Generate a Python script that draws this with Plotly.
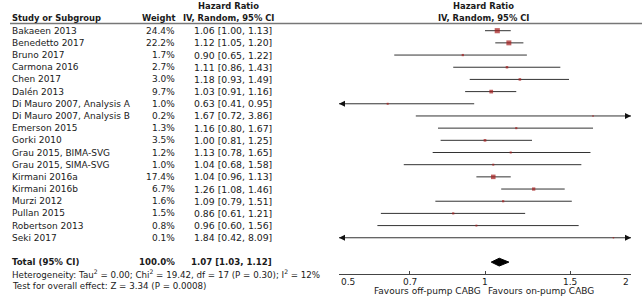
import math
import plotly.graph_objects as go

studies = ["Bakaeen 2013", "Benedetto 2017", "Bruno 2017", "Carmona 2016", "Chen 2017",
           "Dalén 2013", "Di Mauro 2007, Analysis A", "Di Mauro 2007, Analysis B",
           "Emerson 2015", "Gorki 2010", "Grau 2015, BIMA-SVG", "Grau 2015, SIMA-SVG",
           "Kirmani 2016a", "Kirmani 2016b", "Murzi 2012", "Pullan 2015",
           "Robertson 2013", "Seki 2017"]
weights = [24.4, 22.2, 1.7, 2.7, 3.0, 9.7, 1.0, 0.2, 1.3, 3.5, 1.2, 1.0, 17.4, 6.7, 1.6, 1.5, 0.8, 0.1]
hr = [1.06, 1.12, 0.90, 1.11, 1.18, 1.03, 0.63, 1.67, 1.16, 1.00, 1.13, 1.04, 1.04, 1.26, 1.09, 0.86, 0.96, 1.84]
lo = [1.00, 1.05, 0.65, 0.86, 0.93, 0.91, 0.41, 0.72, 0.80, 0.81, 0.78, 0.68, 0.96, 1.08, 0.79, 0.61, 0.60, 0.42]
hi = [1.13, 1.20, 1.22, 1.43, 1.49, 1.16, 0.95, 3.86, 1.67, 1.25, 1.65, 1.58, 1.13, 1.46, 1.51, 1.21, 1.56, 8.09]
total = {"label": "Total (95% CI)", "weight": "100.0%", "hr": 1.07, "lo": 1.03, "hi": 1.12}
heterogeneity = "Heterogeneity: Tau<sup>2</sup> = 0.00; Chi<sup>2</sup> = 19.42, df = 17 (P = 0.30); I<sup>2</sup> = 12%"
overall = "Test for overall effect: Z = 3.34 (P = 0.0008)"
tick_vals = [0.5, 0.7, 1, 1.5, 2]
tick_text = ["0.5", "0.7", "1", "1.5", "2"]
x_min, x_max = 0.5, 2
left_label = "Favours off-pump CABG"
right_label = "Favours on-pump CABG"

W, H = 642, 300
FONT = "DejaVu Sans"
FS = 9
FSB = 8.4
SQ = "#a51d1d"

def px(x):
    return x / W

def py(y):
    return 1 - y / H

rows = list(range(len(studies)))
total_row = len(studies) + 1

fig = go.Figure()

# CI lines
cx, cy = [], []
for r, a, b in zip(rows, lo, hi):
    cx += [a, b, None]
    cy += [r, r, None]
fig.add_trace(go.Scatter(x=cx, y=cy, mode="lines", line=dict(color="#333333", width=1),
                         hoverinfo="skip", showlegend=False))

# arrows for clipped CIs
ax, ay, asym = [], [], []
for r, a, b in zip(rows, lo, hi):
    if a < x_min:
        ax.append(x_min); ay.append(r); asym.append("arrow-left")
    if b > x_max:
        ax.append(x_max); ay.append(r); asym.append("arrow-right")
fig.add_trace(go.Scatter(x=ax, y=ay, mode="markers", cliponaxis=False,
                         marker=dict(symbol=asym, size=6, color="#111111", line=dict(width=0)),
                         hoverinfo="skip", showlegend=False))

# squares
fig.add_trace(go.Scatter(x=hr, y=rows, mode="markers",
                         marker=dict(symbol="square", color=SQ,
                                     size=[1.2 + 0.8 * math.sqrt(w) for w in weights],
                                     line=dict(width=0)),
                         hoverinfo="skip", showlegend=False))

# diamond
dh = 0.32
fig.add_trace(go.Scatter(x=[total["lo"], total["hr"], total["hi"], total["hr"], total["lo"]],
                         y=[total_row, total_row - dh, total_row, total_row + dh, total_row],
                         mode="lines", fill="toself", fillcolor="#000000",
                         line=dict(color="#000000", width=1), hoverinfo="skip", showlegend=False))

ann = []
def text(x, y, t, anchor="left", bold=False, yref="y", size=FS, color="#1a1a1a"):
    ann.append(dict(x=x, y=y, xref="paper", yref=yref, text=("<b>%s</b>" % t) if bold else t,
                    xanchor=anchor, yanchor="middle", showarrow=False,
                    font=dict(family=FONT, size=size, color=color)))

# headers
text(px(228), py(6), "Hazard Ratio", "center", True, "paper", FSB)
text(px(228), py(17.5), "IV, Random, 95% CI", "center", True, "paper", FSB)
text(px(10), py(17.5), "Study or Subgroup", "left", True, "paper", FSB)
text(px(177), py(17.5), "Weight", "right", True, "paper", FSB)
text(px(483), py(6), "Hazard Ratio", "center", True, "paper", FSB)
text(px(483), py(17.5), "IV, Random, 95% CI", "center", True, "paper", FSB)

for r, s, w, h, a, b in zip(rows, studies, weights, hr, lo, hi):
    text(px(10), r, s)
    text(px(177), r, "%.1f%%" % w, "right")
    text(px(274), r, "%.2f [%.2f, %.2f]" % (h, a, b), "right", size=9.3)

text(px(10), total_row, total["label"], "left", True, size=8.6)
text(px(177), total_row, total["weight"], "right", True, size=8.6)
text(px(274), total_row, "%.2f [%.2f, %.2f]" % (total["hr"], total["lo"], total["hi"]), "right", True, size=8.6)
text(px(10), total_row + 1, heterogeneity, size=8.7)
text(px(10), total_row + 1.94, overall, size=8.7)

# tick labels
for i, (v, t) in enumerate(zip(tick_vals, tick_text)):
    anc = "left" if i == 0 else ("right" if i == len(tick_vals) - 1 else "center")
    ann.append(dict(x=math.log10(v), y=py(281.5), xref="x", yref="paper", text=t,
                    xanchor=anc, yanchor="middle", showarrow=False,
                    font=dict(family=FONT, size=FS, color="#1a1a1a")))
ann.append(dict(x=0, y=py(291), xref="x", yref="paper", text=left_label, xanchor="right",
                yanchor="middle", showarrow=False, xshift=-2,
                font=dict(family=FONT, size=FS, color="#1a1a1a")))
ann.append(dict(x=0, y=py(291), xref="x", yref="paper", text=right_label, xanchor="left",
                yanchor="middle", showarrow=False, xshift=1,
                font=dict(family=FONT, size=FS, color="#1a1a1a")))

shapes = [
    dict(type="line", xref="paper", yref="paper", x0=px(10), x1=1, y0=py(23.5), y1=py(23.5),
         line=dict(color="#777777", width=1.5)),
    dict(type="line", xref="x", yref="paper", x0=0, x1=0, y0=py(273.5), y1=py(24),
         line=dict(color="#111111", width=1)),
]

y_top = -2.52
y_bot = 22.11
fig.update_layout(
    width=W, height=H, margin=dict(l=0, r=0, t=0, b=0),
    paper_bgcolor="white", plot_bgcolor="rgba(0,0,0,0)",
    annotations=ann, shapes=shapes,
    xaxis=dict(type="log", range=[math.log10(x_min), math.log10(x_max)],
               domain=[339 / W, 631 / W], anchor="free", position=py(273.5),
               showgrid=False, zeroline=False, showline=True, linecolor="#444444", linewidth=1,
               tickvals=tick_vals, ticks="inside", ticklen=3, tickcolor="#444444",
               showticklabels=False),
    yaxis=dict(range=[y_bot, y_top], domain=[0, 1], visible=False, showgrid=False,
               zeroline=False),
)

fig.write_html("out.html", config={"displayModeBar": False},
               post_script="document.body.style.margin='0px';")
